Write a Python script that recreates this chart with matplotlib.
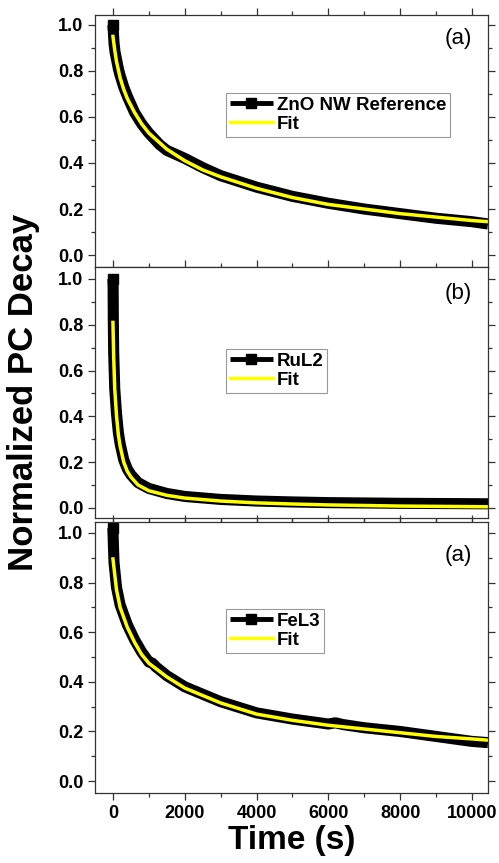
import matplotlib
matplotlib.use("Agg")
import matplotlib.pyplot as plt
from matplotlib.ticker import MultipleLocator

plt.rcParams['font.family'] = ['Liberation Sans', 'DejaVu Sans']

# ZnO NW reference: measured decay and fit
zno_time = [0, 30, 60, 100, 150, 200, 300, 400, 500, 600, 800, 1000, 1300, 1500, 2000, 2500,
            3000, 4000, 5000, 6000, 7000, 8000, 9000, 10000, 10450]
zno_data = [1.0, 0.92, 0.88, 0.85, 0.81, 0.78, 0.73, 0.69, 0.655, 0.62, 0.57, 0.53, 0.48, 0.455,
            0.42, 0.38, 0.345, 0.295, 0.255, 0.225, 0.20, 0.18, 0.16, 0.145, 0.135]
zno_fit_time = [0, 50, 100, 200, 300, 400, 600, 800, 1000, 1500, 2000, 2500, 3000, 4000, 5000,
                6000, 7000, 8000, 9000, 10000, 10450]
zno_fit = [0.95, 0.89, 0.84, 0.77, 0.72, 0.68, 0.62, 0.57, 0.53, 0.46, 0.41, 0.37, 0.34, 0.29,
           0.25, 0.22, 0.20, 0.18, 0.165, 0.15, 0.145]

# RuL2 sensitized
ru_time = [0, 5, 10, 20, 50, 100, 150, 200, 300, 400, 500, 700, 1000, 1500, 2000, 3000, 4000,
           5000, 6000, 8000, 10450]
ru_data = [1.0, 0.96, 0.82, 0.68, 0.52, 0.41, 0.33, 0.28, 0.21, 0.17, 0.145, 0.11, 0.085, 0.063,
           0.05, 0.037, 0.03, 0.026, 0.023, 0.02, 0.018]
ru_fit_time = [0, 20, 50, 100, 150, 200, 300, 400, 500, 700, 1000, 1500, 2000, 3000, 4000, 5000,
               6000, 8000, 10450]
ru_fit = [0.81, 0.66, 0.52, 0.40, 0.32, 0.27, 0.20, 0.16, 0.135, 0.10, 0.075, 0.055, 0.043, 0.03,
          0.022, 0.017, 0.013, 0.008, 0.005]

# FeL3 sensitized
fe_time = [0, 10, 30, 100, 200, 400, 600, 800, 1000, 1100, 1200, 1500, 2000, 2500, 3000, 4000,
           5000, 6000, 6200, 6400, 7000, 8000, 9000, 10000, 10450]
fe_data = [1.02, 0.96, 0.88, 0.78, 0.71, 0.63, 0.57, 0.52, 0.48, 0.475, 0.46, 0.425, 0.38, 0.35,
           0.32, 0.275, 0.25, 0.23, 0.235, 0.228, 0.215, 0.20, 0.18, 0.16, 0.155]
fe_fit_time = [0, 100, 200, 400, 600, 800, 1000, 1500, 2000, 2500, 3000, 4000, 5000, 6000, 7000,
               8000, 9000, 10000, 10450]
fe_fit = [0.895, 0.77, 0.70, 0.62, 0.56, 0.51, 0.475, 0.42, 0.375, 0.345, 0.315, 0.27, 0.245,
          0.225, 0.21, 0.195, 0.18, 0.17, 0.165]

panels = [
    (zno_time, zno_data, zno_fit_time, zno_fit, "ZnO NW Reference", "(a)"),
    (ru_time, ru_data, ru_fit_time, ru_fit, "RuL2", "(b)"),
    (fe_time, fe_data, fe_fit_time, fe_fit, "FeL3", "(a)"),
]

# axes boxes in figure fraction: left, bottom, width, height
boxes = [
    (0.1904, 0.6906, 0.7876, 0.2920),
    (0.1904, 0.3998, 0.7876, 0.2908),
    (0.1904, 0.0811, 0.7876, 0.3140),
]
ylims = [(-0.052, 1.043), (-0.044, 1.052), (-0.048, 1.044)]
legend_tops = [0.69, 0.673, 0.679]
label_ys = [0.905, 0.896, 0.878]

fig = plt.figure(figsize=(4.99, 8.63), dpi=100)

spine_color = '#333333'
for i, (t, y, tf, yf, name, tag) in enumerate(panels):
    ax = fig.add_axes(boxes[i])
    ax.plot(t, y, color='black', lw=8, marker='s', markersize=7, markevery=[0],
            solid_capstyle='butt', label=name)
    ax.plot(tf, yf, color='#ffff00', lw=2.5, label='Fit')
    ax.set_xlim(-500, 10450)
    ax.set_ylim(*ylims[i])

    ax.xaxis.set_major_locator(MultipleLocator(2000))
    ax.xaxis.set_minor_locator(MultipleLocator(1000))
    ax.yaxis.set_major_locator(MultipleLocator(0.2))
    ax.yaxis.set_minor_locator(MultipleLocator(0.1))
    ax.tick_params(which='both', direction='out', color=spine_color, width=0.9,
                   right=True, top=True, labelsize=13)
    ax.tick_params(which='major', length=5)
    ax.tick_params(which='minor', length=3)
    ax.yaxis.set_major_formatter(plt.FuncFormatter(lambda v, p: f"{v:.1f}"))
    for lab in ax.get_yticklabels() + ax.get_xticklabels():
        lab.set_fontweight('bold')
    if i < 2:
        ax.tick_params(labelbottom=False)
    for sp in ax.spines.values():
        sp.set_color(spine_color)
        sp.set_linewidth(0.9)

    leg = ax.legend(loc='upper left', bbox_to_anchor=(0.333, legend_tops[i]),
                    prop={'weight': 'bold', 'size': 13.5}, fancybox=False,
                    edgecolor='#999999', framealpha=1, borderpad=0.2, handlelength=2.3,
                    handletextpad=0.2, labelspacing=0.1, borderaxespad=0, numpoints=1)
    leg.get_frame().set_linewidth(0.8)
    leg.get_lines()[0].set_linewidth(3.5)

    ax.text(0.924, label_ys[i], tag, transform=ax.transAxes, fontsize=16,
            ha='center', va='center')

    if i == 2:
        ax.set_xlabel("Time (s)", fontsize=24, fontweight='bold', labelpad=2)

fig.text(0.048, 1 - 392 / 863, "Normalized PC Decay", rotation=90, fontsize=25,
         fontweight='bold', ha='center', va='center')

fig.savefig("out.png", dpi=100)
